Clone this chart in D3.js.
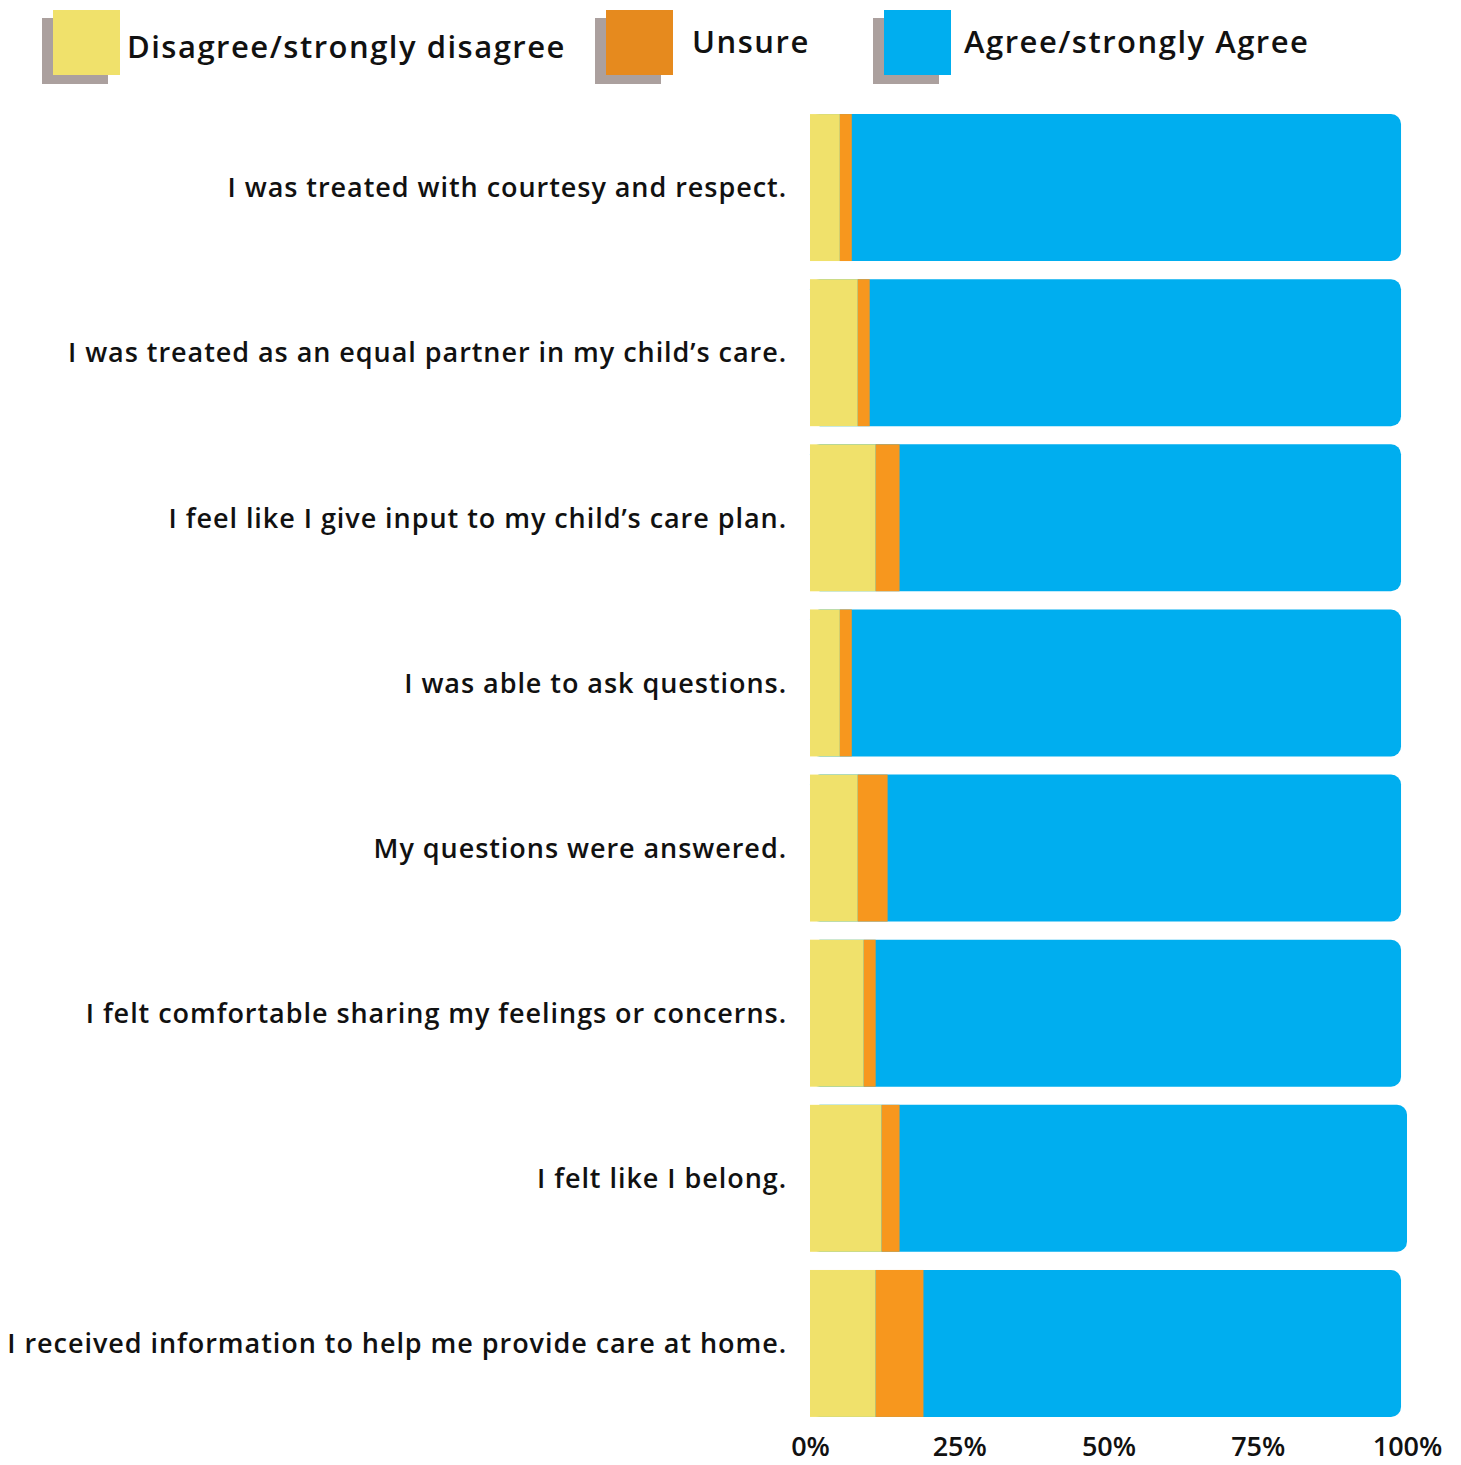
<!DOCTYPE html>
<html lang="en">
<head>
<meta charset="utf-8">
<title>Care survey</title>
<script src="https://d3js.org/d3.v7.min.js"></script>
<style>
  body { margin: 0; background: #fff; }
  text { font-family: "Open Sans", sans-serif; font-weight: 600; fill: #111; }
</style>
</head>
<body>
<script>
// survey statements, top to bottom
var questions = [
  "I was treated with courtesy and respect.",
  "I was treated as an equal partner in my child\u2019s care.",
  "I feel like I give input to my child\u2019s care plan.",
  "I was able to ask questions.",
  "My questions were answered.",
  "I felt comfortable sharing my feelings or concerns.",
  "I felt like I belong.",
  "I received information to help me provide care at home."
];
// percentages
var disagree = [5, 8, 11, 5, 8, 9, 12, 11];
var unsure   = [2, 2, 4, 2, 5, 2, 3, 8];
var agree    = [92, 89, 84, 92, 86, 88, 85, 80];

var seriesNames = ["Disagree/strongly disagree", "Unsure", "Agree/strongly Agree"];
var tickValues = [0, 25, 50, 75, 100];

var w = 1461, h = 1465;
var barColors = ["#f0e16b", "#f7971e", "#00aeef"];
var legendColors = ["#f0e16b", "#e68a1e", "#00aeef"];

var svg = d3.select("body").append("svg")
  .attr("width", w).attr("height", h);

var x = d3.scaleLinear().domain([0, 100]).range([810, 1407]);
var y = d3.scaleBand().domain(questions).range([105, 1426]).paddingInner(0.11).paddingOuter(0.055);

// rows
var rows = questions.map(function(q, i) {
  return {q: q, d: disagree[i], u: unsure[i], a: agree[i]};
});

var g = svg.append("g");
// blue drawn first, full length with rounded ends, others overlaid
g.selectAll(".agree").data(rows).enter().append("rect")
  .attr("x", x(0))
  .attr("y", function(d) { return y(d.q); })
  .attr("width", function(d) { return x(d.d + d.u + d.a) - x(0); })
  .attr("height", y.bandwidth())
  .attr("rx", 10)
  .attr("fill", barColors[2]);

g.selectAll(".dis").data(rows).enter().append("rect")
  .attr("x", x(0))
  .attr("y", function(d) { return y(d.q); })
  .attr("width", function(d) { return x(d.d) - x(0); })
  .attr("height", y.bandwidth())
  .attr("fill", barColors[0]);

g.selectAll(".uns").data(rows).enter().append("rect")
  .attr("x", function(d) { return x(d.d); })
  .attr("y", function(d) { return y(d.q); })
  .attr("width", function(d) { return x(d.d + d.u) - x(d.d); })
  .attr("height", y.bandwidth())
  .attr("fill", barColors[1]);

// category labels
svg.selectAll(".lab").data(questions).enter().append("text")
  .attr("x", 787)
  .attr("y", function(d) { return y(d) + y.bandwidth() / 2; })
  .attr("dy", "0.36em")
  .attr("text-anchor", "end")
  .style("font-size", "27px")
  .style("letter-spacing", "0.95px")
  .text(function(d) { return d; });

// x axis labels
var axis = d3.axisBottom(x).tickValues(tickValues)
  .tickFormat(function(d) { return d + "%"; }).tickSize(0).tickPadding(0);
var ax = svg.append("g").attr("transform", "translate(0,1432)").call(axis);
ax.select(".domain").remove();
ax.selectAll("text").style("font-size", "27px").attr("dy", "0.9em")
  .style("font-family", "Open Sans").style("font-weight", 600).attr("fill", "#111");

// legend
var legX = [53, 606, 884];
var legTextX = [127, 692, 964];
var legTextY = [58, 53, 53];
seriesNames.forEach(function(n, i) {
  svg.append("rect").attr("x", legX[i] - 11).attr("y", 18)
    .attr("width", 66).attr("height", 66).attr("fill", "#aba09e");
  svg.append("rect").attr("x", legX[i]).attr("y", 10)
    .attr("width", 67).attr("height", 65).attr("fill", legendColors[i]);
  svg.append("text").attr("x", legTextX[i]).attr("y", legTextY[i])
    .style("font-size", "31px").style("letter-spacing", "1.5px").text(n);
});
</script>
</body>
</html>
